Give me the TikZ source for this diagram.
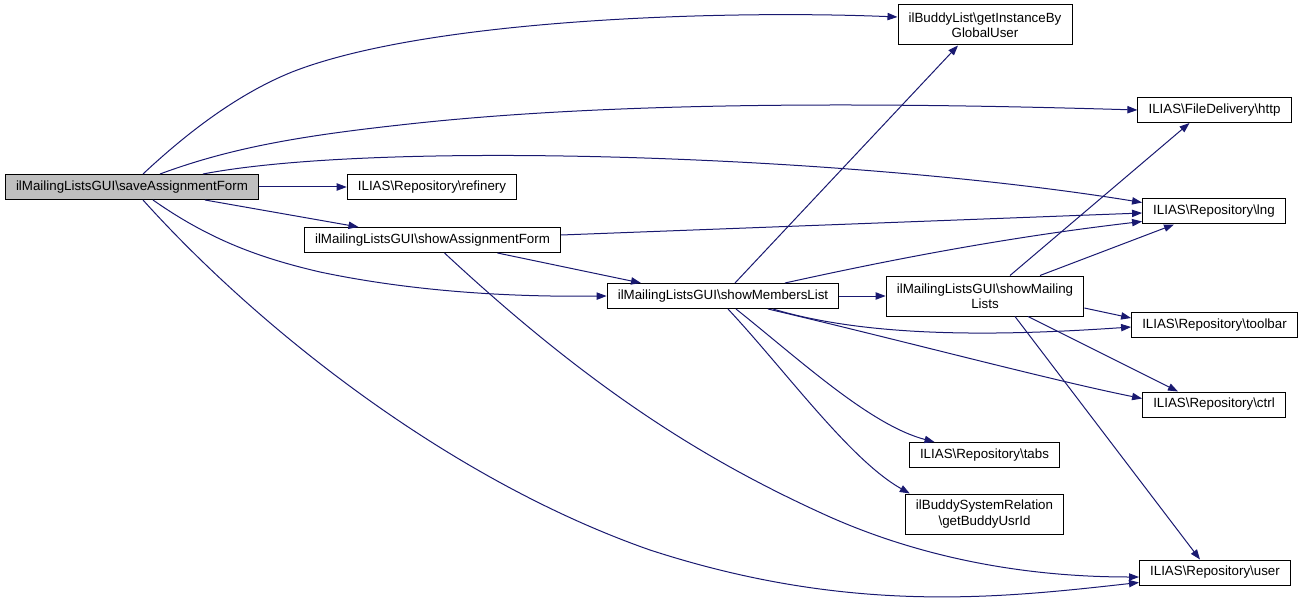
\documentclass[tikz,border=0pt]{standalone}
\usepackage{fontspec}
\setmainfont{Liberation Sans}
\usetikzlibrary{arrows.meta}
\definecolor{callblue}{HTML}{191970}
\definecolor{hilite}{HTML}{BFBFBF}
\newcommand{\bsl}{\textbackslash}

\begin{document}
\begin{tikzpicture}[x=.75pt, y=-.75pt,
    fn/.style={draw=black, fill=white, line width=.75pt, inner xsep=8pt, inner ysep=2pt, minimum height=18.75pt, font=\fontsize{10}{11.5}\selectfont, align=center},
    fntwo/.style={fn, minimum height=30pt},
    call/.style={draw=callblue, line width=.75pt, -{Triangle[length=7.5pt, width=5.5pt]}}]

\useasboundingbox (0,0) rectangle (1303,599);

\node[fn, fill=hilite] (save) at (132,187) {ilMailingListsGUI\bsl saveAssignmentForm};
\node[fn] (refinery) at (432,187) {ILIAS\bsl Repository\bsl refinery};
\node[fn] (showAssign) at (432.5,240) {ilMailingListsGUI\bsl showAssignmentForm};
\node[fn] (showMembers) at (723,296) {ilMailingListsGUI\bsl showMembersList};
\node[fntwo] (getInst) at (985,25) {ilBuddyList\bsl getInstanceBy\\GlobalUser};
\node[fn] (http) at (1214.5,110) {ILIAS\bsl FileDelivery\bsl http};
\node[fn] (lng) at (1214,211.5) {ILIAS\bsl Repository\bsl lng};
\node[fntwo] (showMailing) at (985,296) {ilMailingListsGUI\bsl showMailing\\Lists};
\node[fn] (toolbar) at (1214.5,325) {ILIAS\bsl Repository\bsl toolbar};
\node[fn] (ctrl) at (1214,404.5) {ILIAS\bsl Repository\bsl ctrl};
\node[fn] (tabs) at (984.5,455) {ILIAS\bsl Repository\bsl tabs};
\node[fntwo] (buddySys) at (984.5,514) {ilBuddySystemRelation\\\bsl getBuddyUsrId};
\node[fn] (user) at (1215,572.5) {ILIAS\bsl Repository\bsl user};

\draw[call] ([shift={(11,0)}]save.north) .. controls (190,130) and (240,93) .. (292,72) .. controls (430,18) and (730,10) .. ([shift={(0,-8)}]getInst.west);
\draw[call] ([shift={(28,0)}]save.north) .. controls (230,148) and (300,136) .. (400,125) .. controls (620,100) and (900,103) .. (http.west);
\draw[call] ([shift={(71,0)}]save.north) .. controls (380,140) and (850,155) .. ([shift={(0,-9)}]lng.west);
\draw[call] (save.east) -- (refinery.west);
\draw[call] ([shift={(73,0)}]save.south) -- ([shift={(-74,0)}]showAssign.north);
\draw[call] ([shift={(21,0)}]save.south) .. controls (210,240) and (260,258) .. (320,272) .. controls (420,293) and (520,297) .. (showMembers.west);
\draw[call] ([shift={(11,0)}]save.south) .. controls (260,330) and (450,480) .. (650,550) .. controls (850,615) and (1000,598) .. ([shift={(0,10)}]user.west);

\draw[call] ([shift={(0,-5)}]showAssign.east) -- ([shift={(0,1.5)}]lng.west);
\draw[call] ([shift={(65,0)}]showAssign.south) -- ([shift={(-82,0)}]showMembers.north);
\draw[call] ([shift={(12,0)}]showAssign.south) .. controls (595,393) and (710,463) .. (830,517) .. controls (900,548) and (1000,577) .. ([shift={(0,4.5)}]user.west);

\draw[call] ([shift={(12,0)}]showMembers.north) -- ([shift={(-27,0)}]getInst.south);
\draw[call] ([shift={(62,0)}]showMembers.north) .. controls (880,262) and (1000,238) .. ([shift={(0,10)}]lng.west);
\draw[call] (showMembers.east) -- (showMailing.west);
\draw[call] ([shift={(50,0)}]showMembers.south) .. controls (870,338) and (1000,336) .. ([shift={(0,2)}]toolbar.west);
\draw[call] ([shift={(45,0)}]showMembers.south) .. controls (900,340) and (1050,380) .. ([shift={(0,-6)}]ctrl.west);
\draw[call] ([shift={(13,0)}]showMembers.south) .. controls (800,360) and (870,425) .. ([shift={(-50,0)}]tabs.north);
\draw[call] ([shift={(5,0)}]showMembers.south) .. controls (785,370) and (850,460) .. ([shift={(5,0)}]buddySys.north west);

\draw[call] ([shift={(25,0)}]showMailing.north) -- ([shift={(-25,0)}]http.south);
\draw[call] ([shift={(55,0)}]showMailing.north) -- ([shift={(-40,0)}]lng.south);
\draw[call] ([shift={(0,12)}]showMailing.east) -- ([shift={(0,-7)}]toolbar.west);
\draw[call] ([shift={(43,0)}]showMailing.south) -- ([shift={(-36,0)}]ctrl.north);
\draw[call] ([shift={(30,0)}]showMailing.south) -- ([shift={(-15,0)}]user.north);

\end{tikzpicture}
\end{document}
